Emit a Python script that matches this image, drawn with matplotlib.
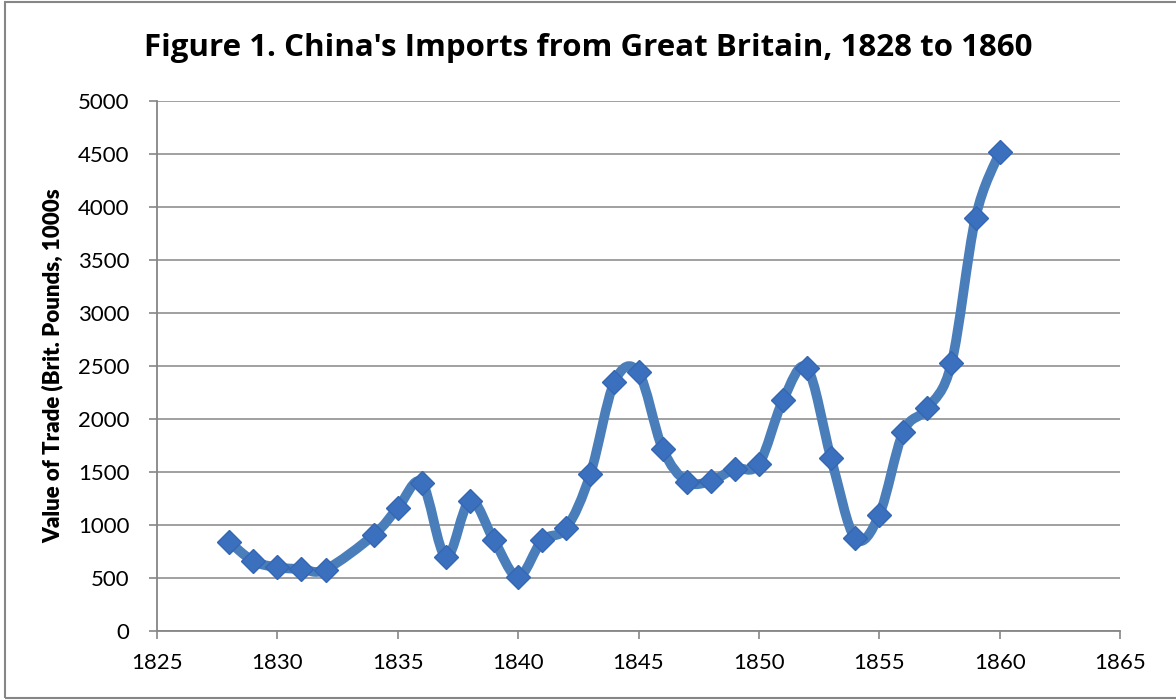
import matplotlib.pyplot as plt
from matplotlib.path import Path
from matplotlib.patches import PathPatch, Rectangle

years = [1828, 1829, 1830, 1831, 1832, 1834, 1835, 1836, 1837, 1838, 1839,
         1840, 1841, 1842, 1843, 1844, 1845, 1846, 1847, 1848, 1849, 1850,
         1851, 1852, 1853, 1854, 1855, 1856, 1857, 1858, 1859, 1860]
imports = [840, 660, 600, 585, 580, 905, 1160, 1400, 700, 1230, 855,
           510, 855, 970, 1480, 2350, 2440, 1720, 1410, 1415, 1530, 1575,
           2175, 2480, 1630, 875, 1095, 1880, 2100, 2525, 3900, 4515]
xticks = [1825, 1830, 1835, 1840, 1845, 1850, 1855, 1860, 1865]
yticks = [0, 500, 1000, 1500, 2000, 2500, 3000, 3500, 4000, 4500, 5000]

plt.rcParams['font.family'] = ['Lato', 'DejaVu Sans']

fig = plt.figure(figsize=(11.76, 7), dpi=100)
ax = fig.add_axes([157/1176, 69/700, (1120-157)/1176, (631-101)/700])

grid_col = '#868686'
line_col = '#4a7ebb'

# smoothed line like excel (catmull-rom bezier)
verts = [(years[0], imports[0])]
codes = [Path.MOVETO]
n = len(years)
for i in range(n - 1):
    x0, y0 = (years[i-1], imports[i-1]) if i > 0 else (years[i], imports[i])
    x1, y1 = years[i], imports[i]
    x2, y2 = years[i+1], imports[i+1]
    x3, y3 = (years[i+2], imports[i+2]) if i + 2 < n else (x2, y2)
    c1 = (x1 + (x2 - x0) / 6, y1 + (y2 - y0) / 6)
    c2 = (x2 - (x3 - x1) / 6, y2 - (y3 - y1) / 6)
    verts += [c1, c2, (x2, y2)]
    codes += [Path.CURVE4] * 3
ax.add_patch(PathPatch(Path(verts, codes), fill=False, edgecolor=line_col,
                       linewidth=7, capstyle='round', joinstyle='round', zorder=3))

ax.plot(years, imports, linestyle='none', marker='D', markersize=12.5,
        markerfacecolor='#3b70bf', markeredgecolor='#3466b2', markeredgewidth=1, zorder=4)

ax.set_xlim(1825, 1865)
ax.set_ylim(0, 5000)
ax.set_xticks(xticks)
ax.set_yticks(yticks)
ax.grid(axis='y', color=grid_col, linewidth=1.1)
ax.set_axisbelow(True)
for s in ['top', 'right']:
    ax.spines[s].set_visible(False)
for s in ['left', 'bottom']:
    ax.spines[s].set_color(grid_col)
    ax.spines[s].set_linewidth(1.3)
ax.tick_params(axis='both', direction='out', length=6, width=1.2, color=grid_col,
               labelsize=16, labelcolor='black')
ax.tick_params(axis='y', pad=14)
ax.tick_params(axis='x', pad=10)

ax.set_ylabel('Value of Trade (Brit. Pounds, 1000s', fontsize=16, fontweight='heavy', labelpad=10)
fig.text(0.5, 0.932, "Figure 1. China's Imports from Great Britain, 1828 to 1860",
         ha='center', va='center', fontsize=22.5, fontweight='bold',
         family=['Open Sans', 'DejaVu Sans'])

fig.patches.append(Rectangle((5/1176, 2/700), 1.0, 696/700, transform=fig.transFigure,
                             fill=False, edgecolor=grid_col, linewidth=1.5))

fig.savefig('out.png', dpi=100)
